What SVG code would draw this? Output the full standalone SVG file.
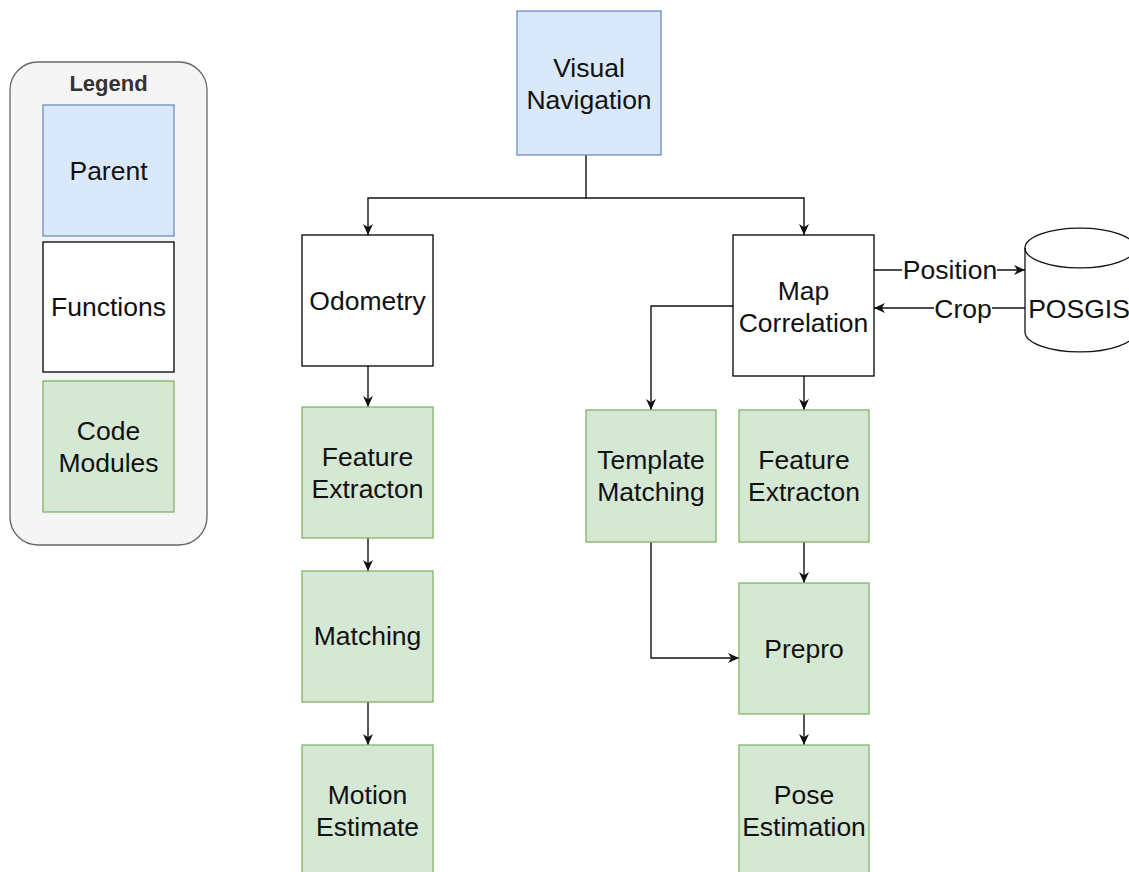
<svg xmlns="http://www.w3.org/2000/svg" width="1129" height="872" viewBox="0 0 1129 872">
<defs>
<style>
.t{font-family:"Liberation Sans",Arial,sans-serif;font-size:26.5px;fill:#111;text-anchor:middle}
.parent{fill:#dae8fc;stroke:#6c8ebf;stroke-width:1.3}
.func{fill:#fff;stroke:#000;stroke-width:1.3}
.code{fill:#d5e8d4;stroke:#82b366;stroke-width:1.3}
.c{fill:none;stroke:#111;stroke-width:1.4}
.lbl{fill:#fff}
</style>
<marker id="a" viewBox="0 0 10 10" refX="10" refY="5" markerWidth="11" markerHeight="11" markerUnits="userSpaceOnUse" orient="auto">
<path d="M0,0.5 L10,5 L0,9.5 L3,5 z" fill="#111"/>
</marker>
</defs>
<rect width="1129" height="872" fill="#fff"/>
<g id="legend">
<rect x="10" y="62" width="197" height="483" rx="28" fill="#f5f5f5" stroke="#666" stroke-width="1.3"/>
<text x="108.500" y="91" style="font-family:'Liberation Sans',Arial,sans-serif;font-size:22px;font-weight:bold;fill:#333;text-anchor:middle">Legend</text>
</g>
<g id="legend-parent"><rect class="parent" x="43" y="105" width="131" height="131"/><text class="t" x="108.500" y="180">Parent</text></g>
<g id="legend-functions"><rect class="func" x="43" y="242" width="131" height="130"/><text class="t" x="108.500" y="316">Functions</text></g>
<g id="legend-code"><rect class="code" x="43" y="381" width="131" height="131"/><text class="t" x="108.500" y="440">Code</text><text class="t" x="108.500" y="472">Modules</text></g>

<g id="connectors">
<polyline class="c" points="586,155 586,198 368,198 368,235" marker-end="url(#a)"/>
<polyline class="c" points="586,198 804,198 804,235" marker-end="url(#a)"/>
<line class="c" x1="368" y1="366" x2="368" y2="407" marker-end="url(#a)"/>
<line class="c" x1="368" y1="538" x2="368" y2="571" marker-end="url(#a)"/>
<line class="c" x1="368" y1="702" x2="368" y2="745" marker-end="url(#a)"/>
<polyline class="c" points="733,306 651,306 651,410" marker-end="url(#a)"/>
<line class="c" x1="804" y1="376" x2="804" y2="410" marker-end="url(#a)"/>
<line class="c" x1="804" y1="542" x2="804" y2="583" marker-end="url(#a)"/>
<polyline class="c" points="651,542 651,658 739,658" marker-end="url(#a)"/>
<line class="c" x1="804" y1="714" x2="804" y2="745" marker-end="url(#a)"/>
<line class="c" x1="874" y1="270" x2="1025" y2="270" marker-end="url(#a)"/>
<rect class="lbl" x="902" y="256" width="95" height="28"/>
<text class="t" x="950" y="279">Position</text>
<line class="c" x1="1025" y1="308" x2="874" y2="308" marker-end="url(#a)"/>
<rect class="lbl" x="934" y="294" width="58" height="30"/>
<text class="t" x="963" y="318">Crop</text>
</g>

<g id="visual-navigation"><rect class="parent" x="517" y="11" width="144" height="144"/><text class="t" x="589" y="77">Visual</text><text class="t" x="589" y="109">Navigation</text></g>
<g id="odometry"><rect class="func" x="302" y="235" width="131" height="131"/><text class="t" x="367.500" y="310">Odometry</text></g>
<g id="map-correlation"><rect class="func" x="733" y="235" width="141" height="141"/><text class="t" x="803.500" y="300">Map</text><text class="t" x="803.500" y="332">Correlation</text></g>
<g id="posgis">
<path d="M1025,248 A55,20 0 0 1 1135,248 L1135,332 A55,20 0 0 1 1025,332 Z" fill="#fff" stroke="#111" stroke-width="1.3"/>
<path d="M1025,248 A55,20 0 0 0 1135,248" fill="none" stroke="#111" stroke-width="1.3"/>
<text class="t" x="1079" y="318">POSGIS</text>
</g>
<g id="feature-extraction-odo"><rect class="code" x="302" y="407" width="131" height="131"/><text class="t" x="367.500" y="466">Feature</text><text class="t" x="367.500" y="498">Extracton</text></g>
<g id="matching"><rect class="code" x="302" y="571" width="131" height="131"/><text class="t" x="367.500" y="645">Matching</text></g>
<g id="motion-estimate"><rect class="code" x="302" y="745" width="131" height="131"/><text class="t" x="367.500" y="804">Motion</text><text class="t" x="367.500" y="836">Estimate</text></g>
<g id="template-matching"><rect class="code" x="586" y="410" width="130" height="132"/><text class="t" x="651" y="469">Template</text><text class="t" x="651" y="501">Matching</text></g>
<g id="feature-extraction-map"><rect class="code" x="739" y="410" width="130" height="132"/><text class="t" x="804" y="469">Feature</text><text class="t" x="804" y="501">Extracton</text></g>
<g id="prepro"><rect class="code" x="739" y="583" width="130" height="131"/><text class="t" x="804" y="658">Prepro</text></g>
<g id="pose-estimation"><rect class="code" x="739" y="745" width="130" height="131"/><text class="t" x="804" y="804">Pose</text><text class="t" x="804" y="836">Estimation</text></g>
</svg>
